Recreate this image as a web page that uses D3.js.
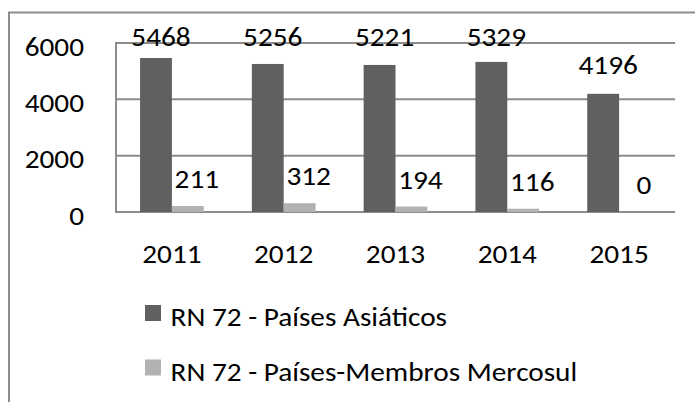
<!DOCTYPE html>
<html>
<head>
<meta charset="utf-8">
<script src="https://d3js.org/d3.v7.min.js"></script>
<style>
  body { margin: 0; background: #fff; }
  text { font-family: Calibri, Carlito, Lato, sans-serif; fill: #000; }
</style>
</head>
<body>
<svg id="chart" width="695" height="402"></svg>
<script>
var years = ["2011", "2012", "2013", "2014", "2015"];
var asiaticos = [5468, 5256, 5221, 5329, 4196];
var mercosul = [211, 312, 194, 116, 0];
var seriesNames = ["RN 72 - Países Asiáticos", "RN 72 - Países-Membros Mercosul"];
var seriesColors = ["#606060", "#b2b2b2"];
var yTicks = [0, 2000, 4000, 6000];

var svg = d3.select("#chart");
var gridColor = "#8c8c8c";
var fontSize = 26;
var stretch = 1.125; // the original text is wider than Lato at the same height

// outer frame, cut off at right and bottom
svg.append("rect")
  .attr("x", 9).attr("y", 12.5)
  .attr("width", 720).attr("height", 420)
  .attr("fill", "none")
  .attr("stroke", gridColor)
  .attr("stroke-width", 2);

var plotLeft = 116, plotRight = 675, plotTop = 43, plotBottom = 212;

var x0 = d3.scaleBand()
  .domain(years)
  .range([plotLeft, plotRight])
  .paddingInner(0.43)
  .paddingOuter(0.215);

var x1 = d3.scaleBand()
  .domain([0, 1])
  .range([0, x0.bandwidth()]);

var y = d3.scaleLinear()
  .domain([0, 6000])
  .range([plotBottom, plotTop]);

// gridlines
svg.append("g")
  .selectAll("line")
  .data(yTicks)
  .enter()
  .append("line")
  .attr("x1", plotLeft)
  .attr("x2", plotRight)
  .attr("y1", function(d) { return y(d); })
  .attr("y2", function(d) { return y(d); })
  .attr("stroke", gridColor)
  .attr("stroke-width", 2);

svg.append("line")
  .attr("x1", plotLeft).attr("x2", plotLeft)
  .attr("y1", y(6000) - 1).attr("y2", y(0) + 1)
  .attr("stroke", gridColor)
  .attr("stroke-width", 2);

// y labels
svg.append("g")
  .selectAll("text")
  .data(yTicks)
  .enter()
  .append("text")
  .attr("x", 84)
  .attr("y", function(d) { return y(d) + 12.5; })
  .attr("text-anchor", "end")
  .style("font-size", fontSize + "px")
  .text(function(d) { return d; });

// x labels
svg.append("g")
  .selectAll("text")
  .data(years)
  .enter()
  .append("text")
  .attr("x", function(d) { return x0(d) + x0.bandwidth() / 2; })
  .attr("y", 262.5)
  .attr("text-anchor", "middle")
  .style("font-size", fontSize + "px")
  .text(function(d) { return d; });

var rows = years.map(function(yr, i) {
  return { year: yr, values: [asiaticos[i], mercosul[i]] };
});

var groups = svg.append("g")
  .selectAll("g")
  .data(rows)
  .enter()
  .append("g")
  .attr("transform", function(d) { return "translate(" + x0(d.year) + ",0)"; });

groups.selectAll("rect")
  .data(function(d) { return d.values; })
  .enter()
  .append("rect")
  .attr("x", function(d, i) { return x1(i); })
  .attr("y", function(d) { return y(d); })
  .attr("width", x1.bandwidth())
  .attr("height", function(d) { return y(0) - y(d); })
  .attr("fill", function(d, i) { return seriesColors[i]; });

// value labels
var labelOffset = [20, 18];
var labelShift = [5, 9];
groups.selectAll("text")
  .data(function(d) { return d.values; })
  .enter()
  .append("text")
  .attr("x", function(d, i) { return x1(i) + x1.bandwidth() / 2 + labelShift[i]; })
  .attr("y", function(d, i) { return Math.max(y(d) - labelOffset[i], 45.5); })
  .attr("text-anchor", "middle")
  .style("font-size", fontSize + "px")
  .text(function(d) { return d; });

// legend
var legend = svg.append("g")
  .selectAll("g")
  .data(seriesNames)
  .enter()
  .append("g")
  .attr("transform", function(d, i) { return "translate(145," + (305 + i * 54.5) + ")"; });

legend.append("rect")
  .attr("width", 16)
  .attr("height", 16)
  .attr("fill", function(d, i) { return seriesColors[i]; });

legend.append("text")
  .attr("x", 25.5)
  .attr("y", 21)
  .style("font-size", fontSize + "px")
  .text(function(d) { return d; });

// widen every text a little, like the source image
svg.selectAll("text").each(function() {
  var w = this.getComputedTextLength();
  d3.select(this)
    .attr("textLength", w * stretch)
    .attr("lengthAdjust", "spacingAndGlyphs");
});
</script>
</body>
</html>
